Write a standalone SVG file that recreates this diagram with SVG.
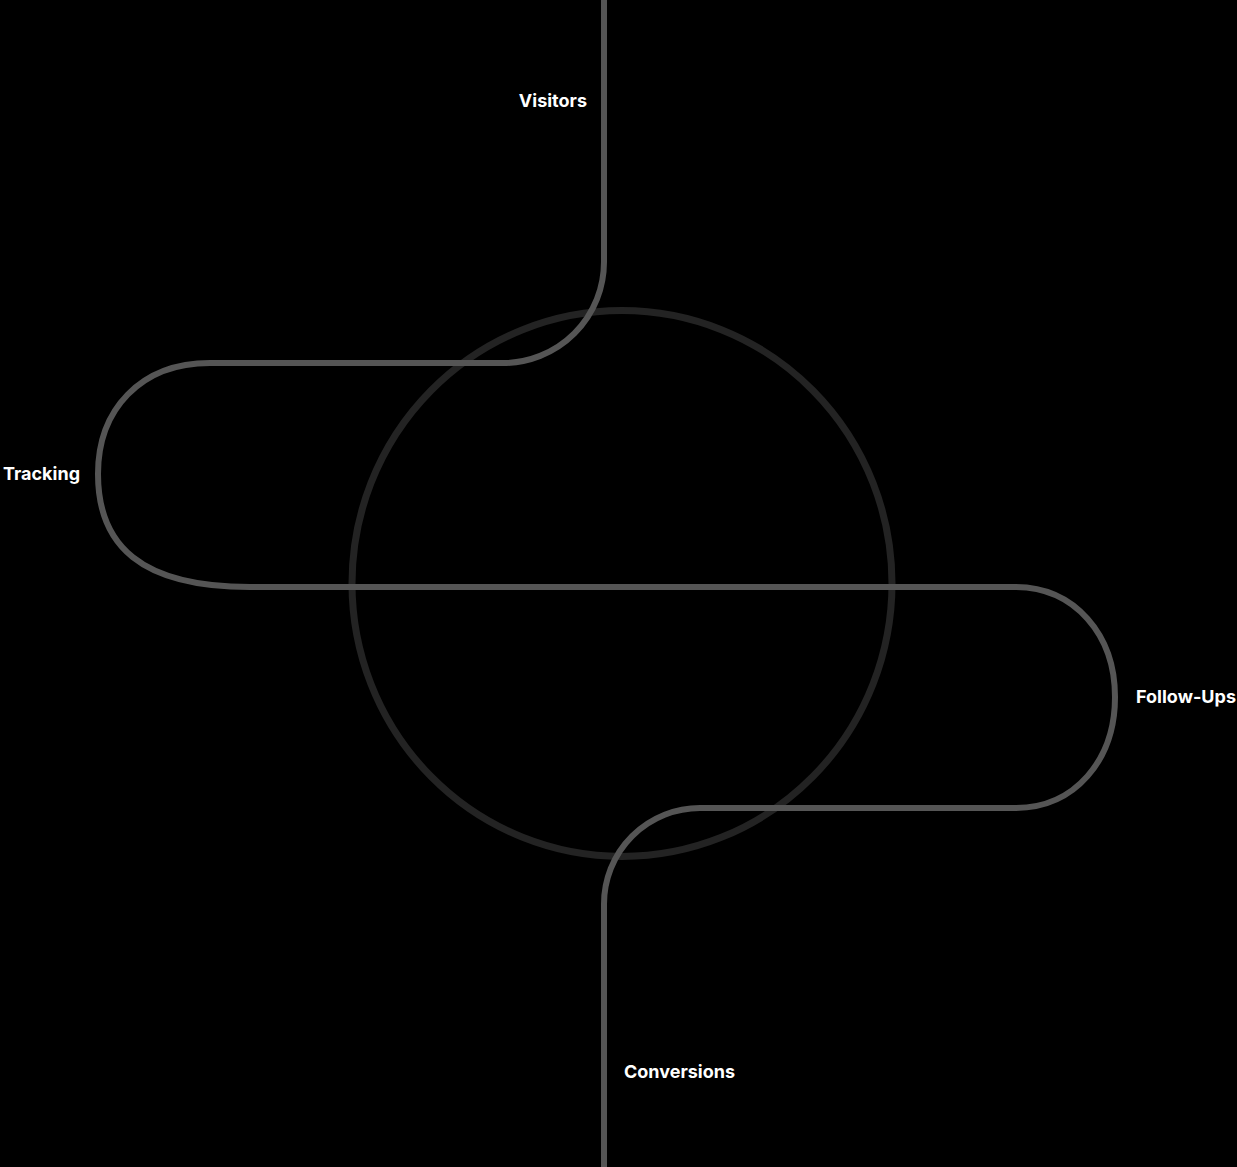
<svg xmlns="http://www.w3.org/2000/svg" width="1237" height="1167" viewBox="0 0 1237 1167">
<style>
.ring{fill:none;stroke:#232323;stroke-width:7}
.flow{fill:none;stroke:#555555;stroke-width:6;stroke-linecap:butt;stroke-linejoin:round}
.lbl{font-family:Inter,"Liberation Sans",sans-serif;font-weight:700;font-size:18px;fill:#ffffff}
</style>
<rect width="1237" height="1167" fill="#000000"/>
<g id="hub">
<ellipse class="ring" cx="622" cy="583.5" rx="270" ry="273"/>
</g>
<g id="connectors">
<path class="flow" d="M604 0 V262 A101 101 0 0 1 503 363 H210 C140 363 98 410 98 474 C98 545 140 587 250 587 H1015 C1075 587 1115 635 1115 697 C1115 760 1075 808 1015 808 H700 A96 96 0 0 0 604 904 V1167"/>
</g>
<g id="visitors"><text class="lbl" x="587" y="107" text-anchor="end">Visitors</text></g>
<g id="tracking"><text class="lbl" x="3" y="480">Tracking</text></g>
<g id="follow-ups"><text class="lbl" x="1136" y="703">Follow-Ups</text></g>
<g id="conversions"><text class="lbl" x="624" y="1078">Conversions</text></g>
</svg>
